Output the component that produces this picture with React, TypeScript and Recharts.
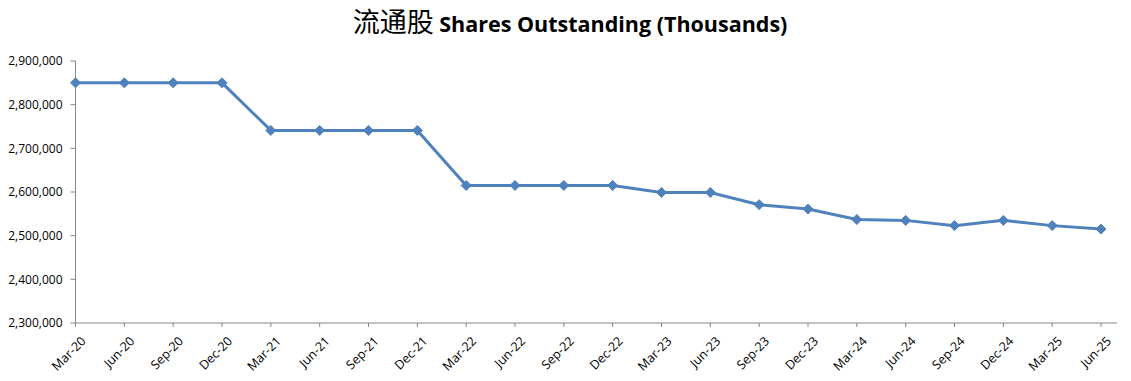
import { LineChart, Line, XAxis, YAxis } from "recharts";

const quarters = [
  "Mar-20", "Jun-20", "Sep-20", "Dec-20",
  "Mar-21", "Jun-21", "Sep-21", "Dec-21",
  "Mar-22", "Jun-22", "Sep-22", "Dec-22",
  "Mar-23", "Jun-23", "Sep-23", "Dec-23",
  "Mar-24", "Jun-24", "Sep-24", "Dec-24",
  "Mar-25", "Jun-25",
];

const sharesOutstanding = [
  2850000, 2850000, 2850000, 2850000,
  2741000, 2741000, 2741000, 2741000,
  2615000, 2615000, 2615000, 2615000,
  2599000, 2599000, 2571000, 2561000,
  2537000, 2535000, 2523000, 2535000,
  2523000, 2515000,
];

const yTicks = [2300000, 2400000, 2500000, 2600000, 2700000, 2800000, 2900000];

const data = quarters.map((q, i) => ({ quarter: q, shares: sharesOutstanding[i] }));

const BLUE = "#4F81BD";
const AXIS = "#868686";
const FONT = "'Open Sans', sans-serif";

function Diamond(props: any) {
  const { cx, cy } = props;
  if (cx == null || cy == null) return null;
  const r = 5;
  return (
    <path
      d={`M${cx},${cy - r} L${cx + r},${cy} L${cx},${cy + r} L${cx - r},${cy} Z`}
      fill={BLUE}
      stroke={BLUE}
      strokeWidth={1}
    />
  );
}

function QuarterTick(props: any) {
  const { x, y, payload } = props;
  const ax = x + 11;
  const ay = y + 15;
  return (
    <text
      x={ax}
      y={ay}
      textAnchor="end"
      transform={`rotate(-45, ${ax}, ${ay})`}
      fontFamily={FONT}
      fontSize={12.5}
      fill="#000"
    >
      {payload.value}
    </text>
  );
}

export default function App() {
  return (
    <div style={{ position: "relative", width: 1115, height: 365 }}>
      <svg
        width={1115}
        height={52}
        style={{ position: "absolute", top: -8, left: 0, overflow: "visible" }}
      >
        <text x={562} y={32} textAnchor="middle" fill="#000">
          <tspan fontFamily="'Noto Sans CJK SC', sans-serif" fontSize={27}>
            流通股
          </tspan>
          <tspan fontFamily={FONT} fontSize={21.5} fontWeight={700}>
            {" Shares Outstanding (Thousands)"}
          </tspan>
        </text>
      </svg>
      <LineChart
        width={1115}
        height={365}
        data={data}
        margin={{ top: 53, right: 6, left: 0, bottom: 0 }}
      >
        <XAxis
          dataKey="quarter"
          interval={0}
          height={50}
          padding={{ left: 0, right: 16 }}
          axisLine={{ stroke: AXIS }}
          tickLine={{ stroke: AXIS }}
          tickSize={4}
          tickMargin={0}
          tick={<QuarterTick />}
        />
        <YAxis
          width={67.5}
          domain={[2300000, 2900000]}
          ticks={yTicks}
          interval={0}
          axisLine={{ stroke: AXIS }}
          tickLine={{ stroke: AXIS }}
          tickSize={5}
          tickMargin={8}
          tickFormatter={(v: number) => v.toLocaleString("en-US")}
          tick={{ fontFamily: FONT, fontSize: 12, fill: "#000" }}
        />
        <Line
          type="linear"
          dataKey="shares"
          stroke={BLUE}
          strokeWidth={3}
          dot={<Diamond />}
          activeDot={false}
          isAnimationActive={false}
        />
      </LineChart>
    </div>
  );
}
